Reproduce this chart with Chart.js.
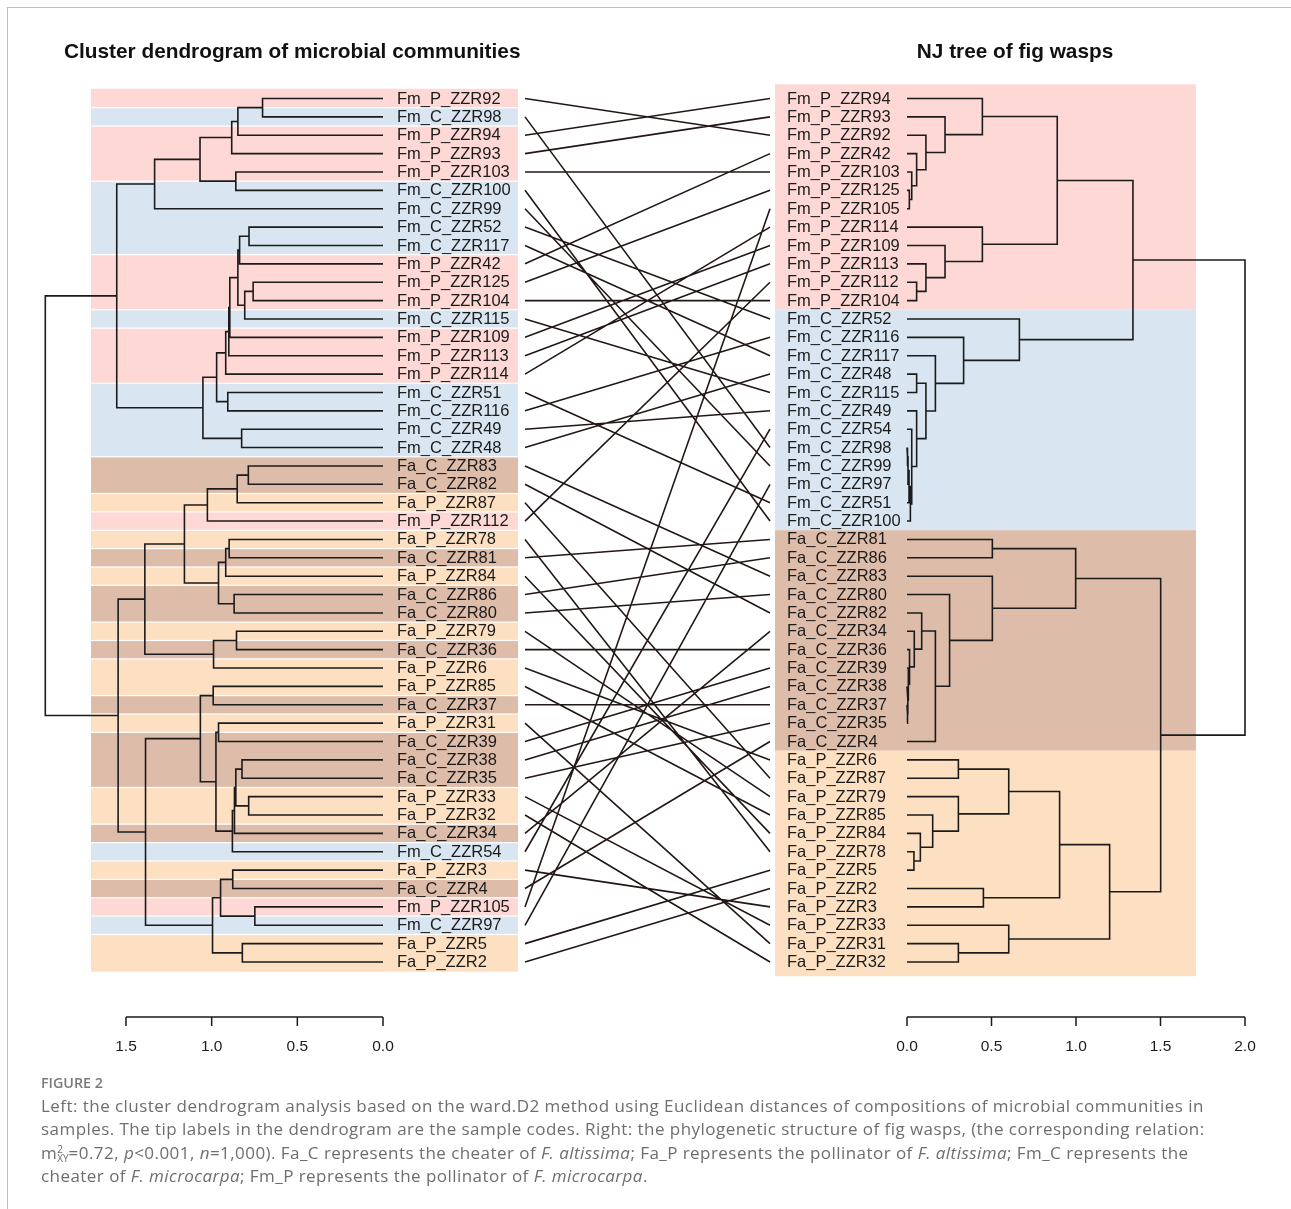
<!DOCTYPE html>
<html>
<head>
<meta charset="utf-8">
<title>Tanglegram</title>
<script src="https://cdn.jsdelivr.net/npm/chart.js@4.4.1/dist/chart.umd.min.js"></script>
<style>
  html, body { margin: 0; padding: 0; background: #fff; }
  #wrap { position: relative; width: 1291px; height: 1209px; overflow: hidden; }
  #frame { position: absolute; left: 7px; top: 7px; right: -2px; bottom: -2px;
           border-top: 1px solid #bdbdbd; border-left: 1px solid #bdbdbd; }
  #chart { position: absolute; left: 0; top: 0; }
  #caption { position: absolute; left: 41px; top: 1072px; width: 1245px;
             font-family: "Open Sans", "Noto Sans", sans-serif; color: #6e6e6e; }
  #caption .fig { font-size: 14.3px; font-weight: 600; color: #7a7a7a; height: 22px; line-height: 22px; }
  #caption .ln { font-size: 17px; line-height: 23.3px; letter-spacing: 0.45px; white-space: nowrap; }
  .supsub { display: inline-block; vertical-align: -3px; line-height: 9px; font-size: 10px; letter-spacing: 0; text-align: left; }
</style>
</head>
<body>
<div id="wrap">
  <div id="frame"></div>
  <canvas id="chart" width="1291" height="1209"></canvas>
  <div id="caption">
    <div class="fig">FIGURE 2</div>
    <div class="ln">Left: the cluster dendrogram analysis based on the ward.D2 method using Euclidean distances of compositions of microbial communities in</div>
    <div class="ln">samples. The tip labels in the dendrogram are the sample codes. Right: the phylogenetic structure of fig wasps, (the corresponding relation:</div>
    <div class="ln">m<span class="supsub">2<br>XY</span>=0.72, <i>p</i>&lt;0.001, <i>n</i>=1,000). Fa_C represents the cheater of <i>F. altissima</i>; Fa_P represents the pollinator of <i>F. altissima</i>; Fm_C represents the</div>
    <div class="ln">cheater of <i>F. microcarpa</i>; Fm_P represents the pollinator of <i>F. microcarpa</i>.</div>
  </div>
</div>
<script>
// Trees as nested merges: [child, child, height]; leaves are sample codes.
// Left: ward.D2 cluster dendrogram of microbial communities
const leftFm = [
    [[[[['Fm_P_ZZR92', 'Fm_C_ZZR98', 0.703], 'Fm_P_ZZR94', 0.847], 'Fm_P_ZZR93', 0.883],
      ['Fm_P_ZZR103', 'Fm_C_ZZR100', 0.859], 1.068], 'Fm_C_ZZR99', 1.333],
    [[[[[[[['Fm_C_ZZR52', 'Fm_C_ZZR117', 0.782], 'Fm_P_ZZR42', 0.837],
          [['Fm_P_ZZR125', 'Fm_P_ZZR104', 0.758], 'Fm_C_ZZR115', 0.807], 0.847],
         'Fm_P_ZZR109', 0.894], 'Fm_P_ZZR113', 0.900], 'Fm_P_ZZR114', 0.918],
      ['Fm_C_ZZR51', 'Fm_C_ZZR116', 0.906], 0.971],
     ['Fm_C_ZZR49', 'Fm_C_ZZR48', 0.825], 1.051],
    1.554
];
const leftFa = [
    [[[[['Fa_C_ZZR83', 'Fa_C_ZZR82', 0.786], 'Fa_P_ZZR87', 0.851], 'Fm_P_ZZR112', 1.025],
      [[['Fa_P_ZZR78', 'Fa_C_ZZR81', 0.898], 'Fa_P_ZZR84', 0.918], ['Fa_C_ZZR86', 'Fa_C_ZZR80', 0.869], 0.960],
      1.159],
     [['Fa_P_ZZR79', 'Fa_C_ZZR36', 0.855], 'Fa_P_ZZR6', 0.989], 1.390],
    [[['Fa_P_ZZR85', 'Fa_C_ZZR37', 0.991],
      [['Fa_P_ZZR31', 'Fa_C_ZZR39', 0.960],
       [[[['Fa_C_ZZR38', 'Fa_C_ZZR35', 0.823], ['Fa_P_ZZR33', 'Fa_P_ZZR32', 0.784], 0.859],
         'Fa_C_ZZR34', 0.867], 'Fm_C_ZZR54', 0.879], 0.975], 1.066],
     [[['Fa_P_ZZR3', 'Fa_C_ZZR4', 0.877], ['Fm_P_ZZR105', 'Fm_C_ZZR97', 0.748], 0.948],
      ['Fa_P_ZZR5', 'Fa_P_ZZR2', 0.821], 0.995], 1.386],
    1.546
];
const leftTree = [leftFm, leftFa, 1.971];

// Right: NJ tree of fig wasps
const rightFmP = [
    ['Fm_P_ZZR94', ['Fm_P_ZZR93', ['Fm_P_ZZR92', ['Fm_P_ZZR42', ['Fm_P_ZZR103',
        ['Fm_P_ZZR125', 'Fm_P_ZZR105', 0.014], 0.028], 0.057], 0.112], 0.225], 0.446],
    ['Fm_P_ZZR114', ['Fm_P_ZZR109', ['Fm_P_ZZR113',
        ['Fm_P_ZZR112', 'Fm_P_ZZR104', 0.057], 0.112], 0.225], 0.446],
    0.889
];
const rightFmC = ['Fm_C_ZZR52', ['Fm_C_ZZR116', ['Fm_C_ZZR117',
    [['Fm_C_ZZR48', 'Fm_C_ZZR115', 0.057],
     ['Fm_C_ZZR49', ['Fm_C_ZZR54',
        [[[['Fm_C_ZZR98', 'Fm_C_ZZR99', 0.003], 'Fm_C_ZZR97', 0.006], 'Fm_C_ZZR51', 0.012],
         'Fm_C_ZZR100', 0.02], 0.028], 0.057], 0.112], 0.168], 0.335], 0.665];
const rightFaC = [
    ['Fa_C_ZZR81', 'Fa_C_ZZR86', 0.505],
    ['Fa_C_ZZR83', ['Fa_C_ZZR80', [['Fa_C_ZZR82', ['Fa_C_ZZR34', ['Fa_C_ZZR36', ['Fa_C_ZZR39',
        ['Fa_C_ZZR38', ['Fa_C_ZZR37', 'Fa_C_ZZR35', 0.003], 0.005], 0.008], 0.015], 0.043], 0.087],
        'Fa_C_ZZR4', 0.168], 0.252], 0.505],
    0.998
];
const rightFaP = [
    [[['Fa_P_ZZR6', 'Fa_P_ZZR87', 0.304],
      ['Fa_P_ZZR79', ['Fa_P_ZZR85', ['Fa_P_ZZR84', ['Fa_P_ZZR78', 'Fa_P_ZZR5', 0.041], 0.079], 0.152], 0.304],
      0.602],
     ['Fa_P_ZZR2', 'Fa_P_ZZR3', 0.452], 0.903],
    ['Fa_P_ZZR33', ['Fa_P_ZZR31', 'Fa_P_ZZR32', 0.304], 0.602],
    1.199
];
const rightTree = [[rightFmP, rightFmC, 1.337], [rightFaC, rightFaP, 1.501], 2.0];

const leftTicks = [1.5, 1.0, 0.5, 0.0];
const rightTicks = [0.0, 0.5, 1.0, 1.5, 2.0];

const groupColors = {
    Fm_P: '#fdd8d5',
    Fm_C: '#d9e6f1',
    Fa_C: '#ddbca9',
    Fa_P: '#fde0c1'
};

// page layout (pixels)
const W = 1291, H = 1209;
const areaTop = 89.3, areaBottom = 971.2;
const lineColor = '#1b1b1b';
const labelFont = '16.5px "Liberation Sans", Arial, sans-serif';

// walk a tree: leaves get rows 1..n, nodes sit between first and last child
function layoutTree(tree) {
    const leaves = [];
    const segs = [];
    function walk(node) {
        if (typeof node === 'string') {
            leaves.push(node);
            return { y: leaves.length, h: 0 };
        }
        const h = node[node.length - 1];
        const kids = node.slice(0, -1).map(walk);
        const y = (kids[0].y + kids[kids.length - 1].y) / 2;
        kids.forEach(k => {
            segs.push({ x: k.h, y: k.y }, { x: h, y: k.y }, { x: h, y: y }, { x: null, y: null });
        });
        return { y, h };
    }
    walk(tree);
    return { leaves, segs };
}

const left = layoutTree(leftTree);
const right = layoutTree(rightTree);

// lines joining the same sample in both trees
const links = [];
left.leaves.forEach((name, i) => {
    const j = right.leaves.indexOf(name);
    if (j >= 0) {
        links.push({ x: 0, y: i + 1 }, { x: 1, y: j + 1 }, { x: null, y: null });
    }
});

// min/max for a scale so that value vA lands at pxA and vB at pxB
function fitRange(pxA, vA, pxB, vB) {
    const k = (pxB - pxA) / (vB - vA);
    const v0 = vA + (0 - pxA) / k;
    const v1 = vA + (W - pxA) / k;
    return v0 > v1 ? { min: v1, max: v0, reverse: true } : { min: v0, max: v1, reverse: false };
}

function groupOf(name) {
    return name.slice(0, 4);
}

function drawBands(ctx, yScale, leaves, x0, x1, gap, endPad) {
    let start = 0;
    for (let i = 1; i <= leaves.length; i++) {
        if (i === leaves.length || groupOf(leaves[i]) !== groupOf(leaves[start])) {
            let top = yScale.getPixelForValue(start + 0.5);
            let bottom = yScale.getPixelForValue(i + 0.5);
            top += start === 0 ? -endPad : gap / 2;
            bottom -= i === leaves.length ? -endPad : gap / 2;
            ctx.fillStyle = groupColors[groupOf(leaves[start])];
            ctx.fillRect(x0, top, x1 - x0, bottom - top);
            start = i;
        }
    }
}

function drawAxis(ctx, scale, ticks, yLine) {
    ctx.save();
    ctx.strokeStyle = lineColor;
    ctx.lineWidth = 1.5;
    const p0 = scale.getPixelForValue(ticks[0]);
    const p1 = scale.getPixelForValue(ticks[ticks.length - 1]);
    ctx.beginPath();
    ctx.moveTo(p0, yLine);
    ctx.lineTo(p1, yLine);
    ticks.forEach(t => {
        const p = scale.getPixelForValue(t);
        ctx.moveTo(p, yLine);
        ctx.lineTo(p, yLine + 9);
    });
    ctx.stroke();
    ctx.fillStyle = '#1b1b1b';
    ctx.font = '15.5px "Liberation Sans", Arial, sans-serif';
    ctx.textAlign = 'center';
    ctx.textBaseline = 'middle';
    ticks.forEach(t => ctx.fillText(t.toFixed(1), scale.getPixelForValue(t), yLine + 30));
    ctx.restore();
}

const decor = {
    id: 'decor',
    beforeDatasetsDraw(chart) {
        const { ctx, scales } = chart;
        const y = scales.y;
        ctx.save();
        drawBands(ctx, y, left.leaves, 91, 518, 1.2, 0.5);
        drawBands(ctx, y, right.leaves, 775, 1196, 0, 5);

        ctx.fillStyle = '#1b1b1b';
        ctx.font = labelFont;
        ctx.textAlign = 'left';
        ctx.textBaseline = 'middle';
        const lx = scales.xL.getPixelForValue(0) + 14;
        left.leaves.forEach((n, i) => ctx.fillText(n, lx, y.getPixelForValue(i + 1) + 0.5));
        const rx = scales.xR.getPixelForValue(0) - 120;
        right.leaves.forEach((n, i) => ctx.fillText(n, rx, y.getPixelForValue(i + 1) + 0.5));
        ctx.restore();
    },
    afterDraw(chart) {
        const { ctx, scales } = chart;
        drawAxis(ctx, scales.xL, leftTicks, 1017);
        drawAxis(ctx, scales.xR, rightTicks, 1017);

        ctx.save();
        ctx.fillStyle = '#111';
        ctx.font = 'bold 20.8px "Liberation Sans", Arial, sans-serif';
        ctx.textBaseline = 'middle';
        ctx.textAlign = 'left';
        ctx.fillText('Cluster dendrogram of microbial communities', 64, 52);
        ctx.textAlign = 'center';
        ctx.fillText('NJ tree of fig wasps', 1015, 52);
        ctx.restore();
    }
};

const lineStyle = {
    showLine: true,
    spanGaps: false,
    pointRadius: 0,
    borderWidth: 1.6,
    tension: 0,
    fill: false
};

const xL = fitRange(383, 0, 126, 1.5);
const xR = fitRange(907, 0, 1245, 2.0);
const xM = fitRange(525, 0, 770, 1);

const ctx = document.getElementById('chart').getContext('2d');
new Chart(ctx, {
    type: 'scatter',
    data: {
        datasets: [
            Object.assign({ label: 'Cluster dendrogram', data: left.segs, xAxisID: 'xL', yAxisID: 'y',
                borderColor: lineColor, borderJoinStyle: 'miter' }, lineStyle),
            Object.assign({ label: 'NJ tree', data: right.segs, xAxisID: 'xR', yAxisID: 'y',
                borderColor: lineColor, borderJoinStyle: 'miter' }, lineStyle),
            Object.assign({ label: 'Links', data: links, xAxisID: 'xM', yAxisID: 'y',
                borderColor: '#231815' }, lineStyle)
        ]
    },
    options: {
        responsive: false,
        animation: false,
        events: [],
        layout: { padding: { top: areaTop, bottom: H - areaBottom, left: 0, right: 0 } },
        scales: {
            x: { type: 'linear', display: false },
            xL: { type: 'linear', axis: 'x', display: false, min: xL.min, max: xL.max, reverse: xL.reverse },
            xR: { type: 'linear', axis: 'x', display: false, min: xR.min, max: xR.max, reverse: xR.reverse },
            xM: { type: 'linear', axis: 'x', display: false, min: xM.min, max: xM.max, reverse: xM.reverse },
            y: { type: 'linear', display: false, min: 0.5, max: 48.5, reverse: true }
        },
        plugins: {
            legend: { display: false },
            tooltip: { enabled: false },
            title: { display: false }
        }
    },
    plugins: [decor]
});
</script>
</body>
</html>
